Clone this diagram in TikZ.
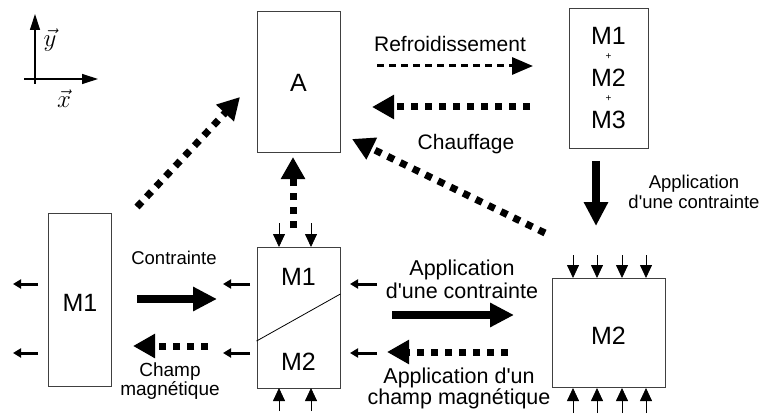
\documentclass[tikz,border=0pt]{standalone}
\usepackage{fontspec}
\setmainfont{Liberation Sans}
\newfontfamily\apofont{Liberation Sans}
\usetikzlibrary{arrows.meta}
\newcommand{\apo}{{\apofont'}}
\begin{document}
\begin{tikzpicture}[x=1pt,y=-1pt,
  box/.style={draw=black!75, line width=0.8pt, inner sep=0pt},
  lbl/.style={align=center, inner sep=0pt},
  big/.style={font=\fontsize{25}{27}\selectfont, inner sep=0pt},
  solidarrow/.style={line width=8pt, -{Triangle[length=24pt,width=23pt]}},
  dotarrow/.style={line width=7pt, dash pattern=on 7pt off 7pt, -{Triangle[length=22pt,width=23pt]}},
  dasharrow/.style={line width=3pt, dash pattern=on 7pt off 5pt, -{Triangle[length=21pt,width=17pt]}},
  force/.style={line width=0.8pt, -{Triangle[length=13pt,width=12pt]}},
  push/.style={line width=3pt, -{Triangle[length=8pt,width=9pt]}},
  axis/.style={line width=1.2pt, -{Triangle[length=16pt,width=10pt]}}
]
\useasboundingbox (0,0) rectangle (762,414);

% axes
\coordinate (ystart) at (35,84);
\coordinate (yend) at (35,14);
\coordinate (xstart) at (24,79);
\coordinate (xend) at (98,79);
\draw[axis] (ystart) -- (yend);
\draw[axis] (xstart) -- (xend);
\node[font=\fontsize{23}{25}\selectfont, inner sep=0pt] (ylab) at (50,40) {$\vec{y}$};
\node[font=\fontsize{23}{25}\selectfont, inner sep=0pt] (xlab) at (64,99) {$\vec{x}$};

% boxes
\node[box, minimum width=83pt, minimum height=141pt] (A) at (298.5,81.5) {};
\node[big] (Atxt) at (298.5,83) {A};

\node[box, minimum width=79pt, minimum height=140pt] (M123) at (608.5,78) {};
\node[big] (m1t) at (608.5,36) {M1};
\node[font=\fontsize{10}{11}\selectfont, inner sep=0pt] (p1) at (608.5,57) {+};
\node[big] (m2t) at (608.5,78) {M2};
\node[font=\fontsize{10}{11}\selectfont, inner sep=0pt] (p2) at (608.5,99) {+};
\node[big] (m3t) at (608.5,120) {M3};

\node[box, minimum width=63pt, minimum height=173pt] (M1L) at (79.5,299.5) {};
\node[big] (m1l) at (80,303) {M1};

\node[box, minimum width=83pt, minimum height=141pt] (MID) at (298.5,317.5) {};
\node[big] (midm1) at (298.5,277) {M1};
\node[big] (midm2) at (298.5,362) {M2};
\draw[line width=0.8pt] (MID.west |- 0,341) -- (MID.east |- 0,294);

\node[box, minimum width=113pt, minimum height=109pt] (M2R) at (608.5,332.5) {};
\node[big] (m2r) at (608.5,336) {M2};

% labels
\node[lbl, font=\fontsize{21}{24}\selectfont] (refr) at (450,44) {Refroidissement};
\node[lbl, font=\fontsize{21}{24}\selectfont] (chauf) at (466,144) {Chauffage};
\node[lbl, font=\fontsize{18.5}{20}\selectfont] (appR) at (694,192) {Application\\d\apo une contrainte};
\node[lbl, font=\fontsize{18.5}{20}\selectfont] (contr) at (174,258) {Contrainte};
\node[lbl, font=\fontsize{19}{19}\selectfont] (champ) at (170,381) {Champ\\magnétique};
\node[lbl, font=\fontsize{21.5}{23}\selectfont] (appM) at (462,279) {Application\\d\apo une contrainte};
\node[lbl, font=\fontsize{21.5}{21}\selectfont] (appC) at (459,388) {Application d\apo un\\champ magnétique};

% big arrows
\coordinate (r1) at (377,66);  \coordinate (r2) at (533,66);
\draw[dasharrow] (r1) -- (r2);
\coordinate (c1) at (530,107); \coordinate (c2) at (372,107);
\draw[dotarrow] (c1) -- (c2);
\coordinate (d1) at (137,207); \coordinate (d2) at (240,97);
\draw[dotarrow] (d1) -- (d2);
\coordinate (e1) at (545,233); \coordinate (e2) at (352,139);
\draw[dotarrow] (e1) -- (e2);
\coordinate (v1) at (293,228); \coordinate (v2) at (293,157);
\draw[dotarrow] (v1) -- (v2);
\coordinate (s1) at (596,161); \coordinate (s2) at (596,226);
\draw[solidarrow] (s1) -- (s2);
\coordinate (k1) at (137,299); \coordinate (k2) at (217,299);
\draw[solidarrow] (k1) -- (k2);
\coordinate (h1) at (208,346); \coordinate (h2) at (133,346);
\draw[dotarrow] (h1) -- (h2);
\coordinate (a1) at (392,315); \coordinate (a2) at (514,315);
\draw[solidarrow] (a1) -- (a2);
\coordinate (b1) at (508,352); \coordinate (b2) at (387,352);
\draw[dotarrow] (b1) -- (b2);

% push arrows
\foreach \xa/\xb/\yy in {38/13/284, 38/13/353, 250/223/284, 250/223/353, 377/350/284, 377/350/353}
  \draw[push] (\xa,\yy) -- (\xb,\yy);

% force arrows
\foreach \xx in {279,311} {
  \draw[force] (\xx,223) -- (\xx,247);
  \draw[force] (\xx,411) -- (\xx,388);
}
\foreach \xx in {573,597,622,646} {
  \draw[force] (\xx,255) -- (\xx,278);
  \draw[force] (\xx,413) -- (\xx,388);
}
\end{tikzpicture}
\end{document}
